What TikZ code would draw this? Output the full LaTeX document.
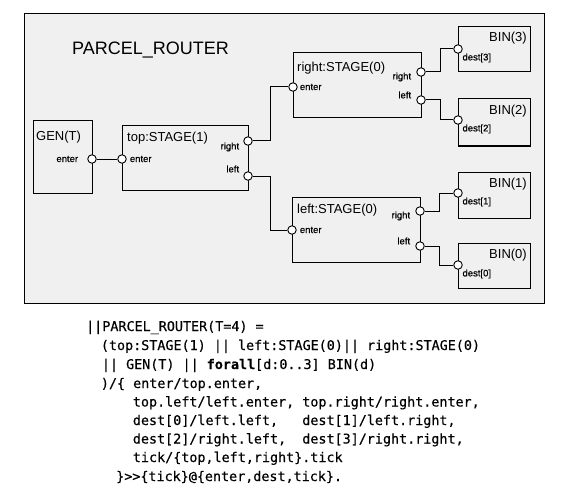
\documentclass[tikz,border=0pt]{standalone}
\usepackage{fontspec}
\setmainfont{Liberation Sans}
\newfontfamily\codefont[FakeBold=0.4]{DejaVu Sans Mono}
\newfontfamily\portfont[FakeBold=0.6]{Liberation Sans}
\tikzset{
  router frame/.style={draw, line width=1pt, fill=gray!12, anchor=north west, inner sep=0pt, outer sep=0pt},
  box/.style={draw, line width=1pt, anchor=north west, inner sep=0pt, outer sep=0pt},
  port/.style={shape=circle, draw, line width=0.9pt, fill=white, inner sep=0pt, minimum size=8.5pt},
  port label/.style={font=\portfont\fontsize{9.5}{10}\selectfont, inner sep=1pt},
  box title/.style={font=\fontsize{13}{15}\selectfont, inner sep=0pt},
  code line/.style={font=\codefont\fontsize{13.4}{15}\selectfont, anchor=base west, inner sep=0pt},
  wire/.style={line width=1pt}
}

\begin{document}
\begin{tikzpicture}[x=1pt, y=-1pt]
    \useasboundingbox (0,0) rectangle (570,500);

    \node[router frame, minimum width=520pt, minimum height=289pt] (router) at (24,14) {};
    \node[font=\fontsize{18}{20}\selectfont, anchor=base west, inner sep=0pt] (router-title) at (72,55) {PARCEL\_ROUTER};

    % components
    \node[box, minimum width=59pt, minimum height=72pt] (gen) at (33,121) {};
    \node[box, minimum width=126pt, minimum height=64pt] (top) at (122,126) {};
    \node[box, minimum width=128pt, minimum height=65pt] (rgt) at (293,53) {};
    \node[box, minimum width=128pt, minimum height=65pt] (lft) at (292,197) {};
    \node[box, minimum width=72pt, minimum height=45pt] (bin3) at (458,27) {};
    \node[box, minimum width=72pt, minimum height=47pt] (bin2) at (458,99) {};
    \node[box, minimum width=72pt, minimum height=46pt] (bin1) at (458,172) {};
    \node[box, minimum width=72pt, minimum height=45pt] (bin0) at (458,243) {};

    \node[box title, anchor=base west] (gen-title) at ([shift={(3pt,-19pt)}]gen.north west) {GEN(T)};
    \node[box title, anchor=base west] (top-title) at ([shift={(5pt,-16pt)}]top.north west) {top:STAGE(1)};
    \node[box title, anchor=base west] (rgt-title) at ([shift={(4pt,-19pt)}]rgt.north west) {right:STAGE(0)};
    \node[box title, anchor=base west] (lft-title) at ([shift={(5pt,-16pt)}]lft.north west) {left:STAGE(0)};
    \node[box title, anchor=base east] (bin3-title) at ([shift={(-3pt,-15pt)}]bin3.north east) {BIN(3)};
    \node[box title, anchor=base east] (bin2-title) at ([shift={(-3pt,-15pt)}]bin2.north east) {BIN(2)};
    \node[box title, anchor=base east] (bin1-title) at ([shift={(-3pt,-15pt)}]bin1.north east) {BIN(1)};
    \node[box title, anchor=base east] (bin0-title) at ([shift={(-3pt,-15pt)}]bin0.north east) {BIN(0)};

    % ports
    \node[port, label={[port label, label distance=8pt]left:enter}] (gen-enter) at (92,159) {};
    \node[port, label={[port label, label distance=2pt]right:enter}] (top-enter) at (122,159) {};
    \node[port, label={[port label, label distance=3pt, yshift=-6pt]left:right}] (top-right) at (248,141) {};
    \node[port, label={[port label, label distance=3pt, yshift=7pt]left:left}] (top-left) at (248,176) {};
    \node[port, label={[port label, label distance=1pt]right:enter}] (rgt-enter) at (293,87) {};
    \node[port, label={[port label, label distance=4pt, yshift=-5pt]left:right}] (rgt-right) at (421,72) {};
    \node[port, label={[port label, label distance=4pt, yshift=5pt]left:left}] (rgt-left) at (421,100) {};
    \node[port, label={[port label, label distance=2pt]right:enter}] (lft-enter) at (292,230) {};
    \node[port, label={[port label, label distance=4pt, yshift=-5pt]left:right}] (lft-right) at (420,211) {};
    \node[port, label={[port label, label distance=4pt, yshift=5pt]left:left}] (lft-left) at (420,246) {};
    \node[port, label={[port label]below right:dest[3]}] (bin3-dest) at (458,49) {};
    \node[port, label={[port label]below right:dest[2]}] (bin2-dest) at (458,120) {};
    \node[port, label={[port label]below right:dest[1]}] (bin1-dest) at (458,193) {};
    \node[port, label={[port label]below right:dest[0]}] (bin0-dest) at (458,265) {};

    % bindings
    \draw[wire] (gen-enter) -- (top-enter);
    \draw[wire] (top-right) -- ++(22,0) |- (rgt-enter);
    \draw[wire] (top-left) -- ++(22,0) |- (lft-enter);
    \draw[wire] (rgt-right) -- ++(19,0) |- (bin3-dest);
    \draw[wire] (rgt-left) -- ++(19,0) |- (bin2-dest);
    \draw[wire] (lft-right) -- ++(19,0) |- (bin1-dest);
    \draw[wire] (lft-left) -- ++(19,0) |- (bin0-dest);

    % FSP text
    \node[code line] (fsp1) at (86,331) {||PARCEL\_ROUTER(T=4) =};
    \node[code line] (fsp2) at (100.7,350) {(top:STAGE(1) || left:STAGE(0)|| right:STAGE(0)};
    \node[code line] (fsp3) at (101.7,369) {|| GEN(T) || \textbf{forall}[d:0..3] BIN(d)};
    \node[code line] (fsp4) at (100.7,388) {)/\{ enter/top.enter,};
    \node[code line] (fsp5) at (132.7,406.5) {top.left/left.enter, top.right/right.enter,};
    \node[code line] (fsp6) at (132.7,425) {dest[0]/left.left,\ \ \ dest[1]/left.right,};
    \node[code line] (fsp7) at (132.7,443.5) {dest[2]/right.left,\ \ dest[3]/right.right,};
    \node[code line] (fsp8) at (132.7,462) {tick/\{top,left,right\}.tick};
    \node[code line] (fsp9) at (116,481) {\}>>\{tick\}@\{enter,dest,tick\}.};

\end{tikzpicture}
\end{document}
